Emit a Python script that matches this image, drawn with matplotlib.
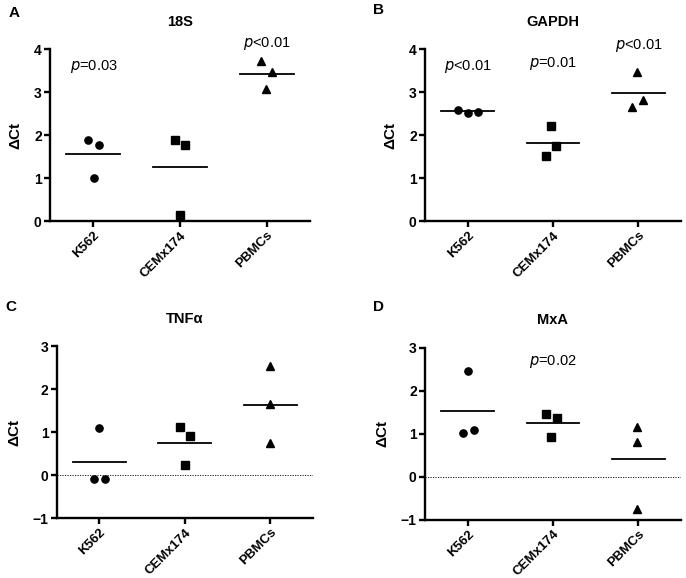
import numpy as np
import matplotlib
matplotlib.use("Agg")
import matplotlib.pyplot as plt

plt.rcParams['font.family'] = ['Liberation Sans', 'DejaVu Sans']

groepen = ["K562", "CEMx174", "PBMCs"]
markers = ["o", "s", "^"]

# meetwaarden per paneel (3 per cellijn)
titels = ["18S", "GAPDH", "TNF\u03b1", "MxA"]
letters = ["A", "B", "C", "D"]
waarden_18S = [[1.88, 1.78, 1.00], [1.88, 1.78, 0.15], [3.72, 3.48, 3.08]]
waarden_GAPDH = [[2.59, 2.52, 2.55], [2.21, 1.74, 1.52], [3.47, 2.66, 2.83]]
waarden_TNF = [[1.10, -0.08, -0.08], [1.11, 0.91, 0.24], [2.53, 1.65, 0.74]]
waarden_MxA = [[2.46, 1.03, 1.10], [1.46, 1.36, 0.93], [1.17, 0.80, -0.74]]
# horizontale spreiding van de punten
spreiding_18S = [[-0.06, 0.07, 0.01], [-0.06, 0.06, 0.0], [-0.07, 0.06, -0.01]]
spreiding_GAPDH = [[-0.11, 0.0, 0.12], [-0.02, 0.04, -0.08], [-0.02, -0.07, 0.06]]
spreiding_TNF = [[0.0, -0.06, 0.06], [-0.06, 0.06, 0.0], [0.0, 0.0, 0.0]]
spreiding_MxA = [[0.0, -0.06, 0.07], [-0.08, 0.05, -0.02], [-0.01, -0.01, -0.01]]
# p-waarden: (groep, y, tekst)
pwaarden_18S = [(0, 3.59, "=0.03"), (2, 4.14, "<0.01")]
pwaarden_GAPDH = [(0, 3.59, "<0.01"), (1, 3.67, "=0.01"), (2, 4.09, "<0.01")]
pwaarden_TNF = []
pwaarden_MxA = [(1, 2.68, "=0.02")]

alle_waarden = [waarden_18S, waarden_GAPDH, waarden_TNF, waarden_MxA]
alle_spreiding = [spreiding_18S, spreiding_GAPDH, spreiding_TNF, spreiding_MxA]
alle_p = [pwaarden_18S, pwaarden_GAPDH, pwaarden_TNF, pwaarden_MxA]
ylims = [(0, 4), (0, 4), (-1, 3), (-1, 3)]

# posities van de assen [links, onder, breedte, hoogte]
posities = [[0.0729, 0.6176, 0.3790, 0.2971],
            [0.6195, 0.6176, 0.3732, 0.2971],
            [0.0827, 0.1038, 0.3736, 0.2971],
            [0.6195, 0.1009, 0.3732, 0.2971]]
letter_pos = [(0.012, 0.978), (0.544, 0.982), (0.008, 0.468), (0.544, 0.468)]

fig = plt.figure(figsize=(6.86, 5.78), dpi=100)

for i in range(4):
    ax = fig.add_axes(posities[i])
    for g in range(3):
        x = g + np.array(alle_spreiding[i][g])
        y = np.array(alle_waarden[i][g])
        ax.plot(x, y, linestyle='none', marker=markers[g], color='black',
                markersize=5.2 if markers[g] != "^" else 5.5, zorder=3)
        gem = np.mean(y)
        ax.plot([g - 0.31, g + 0.31], [gem, gem], color='black', lw=1.3, zorder=2)
    if ylims[i][0] < 0:
        ax.plot([-0.5, 2.5], [0, 0], color='black', lw=0.6, ls=(0, (1.5, 1.5)), zorder=1)
    for g, yp, tekst in alle_p[i]:
        ax.text(g, yp, r"$\it{p}$" + tekst, ha='center', va='center', fontsize=10.5)
    ax.set_xlim(-0.5, 2.5)
    ax.set_ylim(*ylims[i])
    ax.set_yticks(np.arange(ylims[i][0], ylims[i][1] + 1))
    ax.set_xticks(range(3))
    ax.set_xticklabels(groepen, rotation=45, ha='right', rotation_mode='anchor',
                       fontsize=9.5, fontweight='bold')
    for lab in ax.get_yticklabels():
        lab.set_fontweight('bold')
        lab.set_fontsize(10)
    ax.spines['top'].set_visible(False)
    ax.spines['right'].set_visible(False)
    ax.spines['left'].set_linewidth(1.7)
    ax.spines['bottom'].set_linewidth(1.7)
    ax.tick_params(width=1.7, length=4, pad=2)
    ax.set_ylabel("\u0394Ct", fontsize=11, fontweight='bold', labelpad=8)
    ax.set_title(titels[i], fontsize=10.5, fontweight='bold', pad=17)
    fig.text(letter_pos[i][0], letter_pos[i][1], letters[i], fontsize=11,
             fontweight='bold', ha='left', va='center')

fig.savefig("out.png", dpi=100)
